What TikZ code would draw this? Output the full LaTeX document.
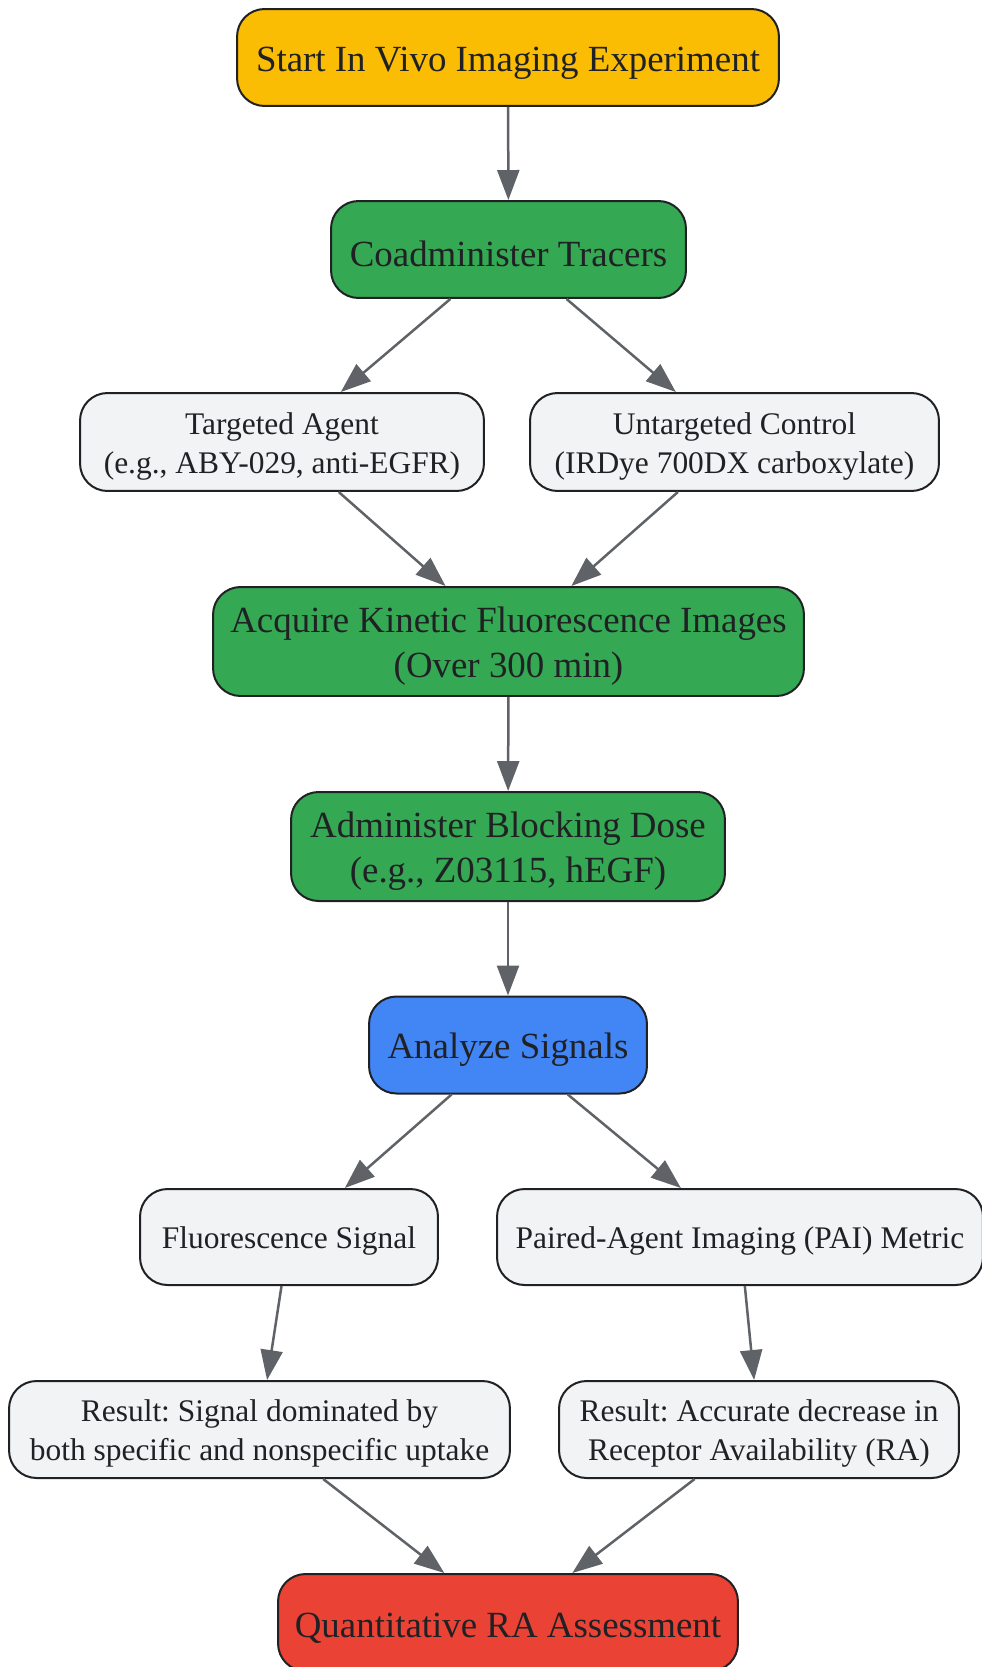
\documentclass[tikz,border=0pt]{standalone}
\usepackage{fontspec}
\setmainfont{Liberation Serif}
\usetikzlibrary{arrows.meta}
\frenchspacing

\definecolor{gelb}{HTML}{FBBC04}
\definecolor{gruen}{HTML}{34A853}
\definecolor{blau}{HTML}{4285F4}
\definecolor{rot}{HTML}{EA4335}
\definecolor{hellgrau}{HTML}{F1F3F4}
\definecolor{rand}{HTML}{202124}
\definecolor{kante}{HTML}{5F6368}

\begin{document}
\begin{tikzpicture}[x=0.02cm, y=-0.02cm]

\useasboundingbox (0,0) rectangle (981,1667);

\tikzset{
  box/.style={draw=rand, line width=0.04cm, rounded corners=0.55cm, text=rand, align=center, minimum height=1.94cm, inner sep=0pt, execute at begin node={\rule{0pt}{0.95em}}},
  zweizeilig/.style={execute at begin node={\rule{0pt}{\dimexpr0.95em+\baselineskip\relax}}},
  gross/.style={box, font=\fontsize{21}{25.6}\selectfont},
  klein/.style={box, fill=hellgrau, minimum height=1.96cm, font=\fontsize{17.9}{22.2}\selectfont},
  pfeil/.style={draw=kante, line width=0.05cm, -{Triangle[length=0.6cm, width=0.44cm]}}
}

% 1. Start
\node[gross, fill=gelb, minimum width=10.84cm] (start) at (508,57.5) {Start In Vivo Imaging Experiment};

% 2. Tracer
\node[gross, fill=gruen, minimum width=7.1cm] (coad) at (508.5,249.5) {Coadminister Tracers};
\node[klein, zweizeilig, minimum width=8.08cm] (targ) at (282,442) {Targeted Agent\\(e.g., ABY-029, anti-EGFR)};
\node[klein, zweizeilig, minimum width=8.18cm] (untarg) at (734.5,442) {Untargeted Control\\(IRDye 700DX carboxylate)};

% 3. Bildgebung und Blockade
\node[gross, zweizeilig, fill=gruen, minimum width=11.82cm, minimum height=2.18cm] (acq) at (508.5,641.5) {Acquire Kinetic Fluorescence Images\\(Over 300 min)};
\node[gross, zweizeilig, fill=gruen, minimum width=8.68cm, minimum height=2.18cm] (block) at (508,846.5) {Administer Blocking Dose\\(e.g., Z03115, hEGF)};

% 4. Auswertung
\node[gross, fill=blau, minimum width=5.56cm] (analyse) at (508,1045) {Analyze Signals};
\node[klein, minimum width=5.96cm, minimum height=1.92cm] (fluor) at (289,1237) {Fluorescence Signal};
\node[klein, minimum width=9.72cm, minimum height=1.92cm] (pai) at (740,1237) {Paired-Agent Imaging (PAI) Metric};

% 5. Ergebnisse
\node[klein, zweizeilig, minimum width=10.02cm, minimum height=1.94cm] (res1) at (259.5,1429.5) {Result: Signal dominated by\\both specific and nonspecific uptake};
\node[klein, zweizeilig, minimum width=8cm, minimum height=1.94cm] (res2) at (759,1429.5) {Result: Accurate decrease in\\Receptor Availability (RA)};
\node[gross, fill=rot, minimum width=9.2cm] (quant) at (508,1622.5) {Quantitative RA Assessment};

% 6. Verbindungen
\draw[pfeil] (start) -- (coad);
\draw[pfeil] (coad) -- (targ);
\draw[pfeil] (coad) -- (untarg);
\draw[pfeil] (targ) -- (acq);
\draw[pfeil] (untarg) -- (acq);
\draw[pfeil] (acq) -- (block);
\draw[pfeil] (block) -- (analyse);
\draw[pfeil] (analyse) -- (fluor);
\draw[pfeil] (analyse) -- (pai);
\draw[pfeil] (fluor) -- (res1);
\draw[pfeil] (pai) -- (res2);
\draw[pfeil] (res1) -- (quant);
\draw[pfeil] (res2) -- (quant);

\end{tikzpicture}
\end{document}
